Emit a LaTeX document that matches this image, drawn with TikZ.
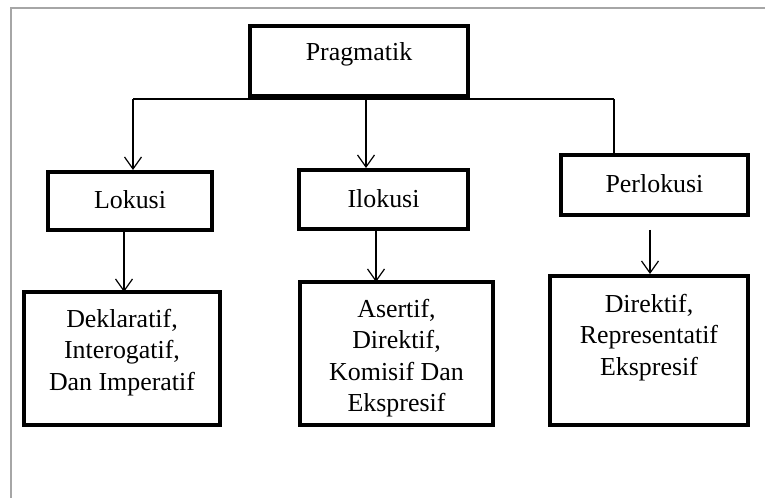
\documentclass[tikz,border=0pt]{standalone}
\usepackage{fontspec}
\setmainfont{Liberation Serif}
\usetikzlibrary{arrows.meta,positioning}

\begin{document}
\begin{tikzpicture}[
		x=1bp,y=-1bp,
		box/.style={draw=black,line width=4bp,inner sep=0pt},
		txt/.style={font=\fontsize{26}{31.5}\selectfont,align=center,inner sep=0pt},
		arr/.style={-{Straight Barb[length=12bp,width=17bp]},line width=1.2bp},
		link/.style={line width=1.2bp},
		frame/.style={draw=gray!70,line width=2bp}
		]
		
		% --- page size and the grey frame
		\useasboundingbox (0,0) rectangle (765,498);
		\draw[frame] (11,498) -- (11,8) -- (765,8);
		
		% --- top box
		\node[box,minimum width=218bp,minimum height=70bp] (prag) at (359,61) {};
		\node[txt] (pragtxt) at (359,54) {Pragmatik};
		
		% --- second row
		\node[box,minimum width=164bp,minimum height=58bp] (lok) at (130,201) {};
		\node[txt] (loktxt) at (130,200) {Lokusi};
		\node[box,minimum width=169bp,minimum height=59bp] (ilok) at (383.5,199.5) {};
		\node[txt] (iloktxt) at (383.5,199) {Ilokusi};
		\node[box,minimum width=187bp,minimum height=60bp] (perl) at (654.5,185) {};
		\node[txt] (perltxt) at (654.5,184) {Perlokusi};
		
		% --- third row
		\node[box,minimum width=196bp,minimum height=133bp] (dek) at (122,358.5) {};
		\node[txt,anchor=north] (dektxt) at (122,309) {Deklaratif,\\Interogatif,\\Dan Imperatif};
		\node[box,minimum width=193bp,minimum height=143bp] (ase) at (396.5,353.5) {};
		\node[txt,anchor=north] (asetxt) at (396.5,299) {Asertif,\\Direktif,\\Komisif Dan\\Ekspresif};
		\node[box,minimum width=198bp,minimum height=149bp] (dir) at (649,350.5) {};
		\node[txt,anchor=north] (dirtxt) at (649,294) {Direktif,\\Representatif\\Ekspresif};
		
		% --- connectors
		\coordinate (busL) at (133,99);
		\coordinate (busM) at (366,99);
		\coordinate (busR) at (614,99);
		\draw[link] (busL) -- (busR);
		\draw[link] (prag.south -| busM) -- (busM);
		\draw[arr] (busL) -- (busL |- lok.north);
		\draw[arr] (busM) -- (busM |- ilok.north);
		\draw[link] (busR) -- (busR |- perl.north);
		
		\draw[arr] (124,230) -- (124,292);
		\draw[arr] (376,229) -- (376,282);
		\coordinate (perlout) at (650,230);
		\draw[arr] (perlout) -- (perlout |- dir.north);
		
	\end{tikzpicture}
\end{document}
